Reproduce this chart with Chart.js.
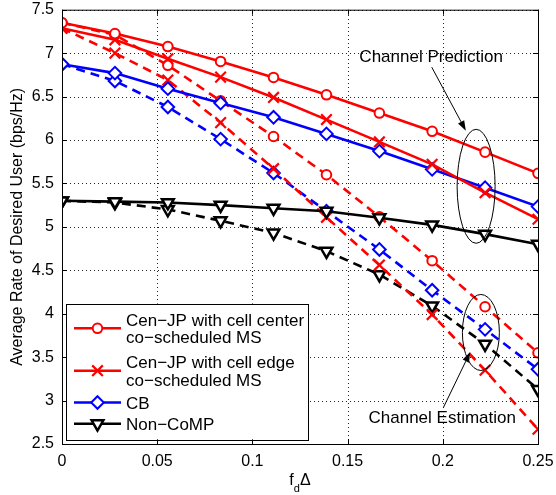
<!DOCTYPE html>
<html lang="en">
<head>
  <meta charset="UTF-8">
  <title>Average Rate of Desired User</title>
  <script src="https://cdn.jsdelivr.net/npm/chart.js"></script>
  <style>
    html, body { margin: 0; padding: 0; background: #fff; }
    canvas { display: block; }
  </style>
</head>
<body>
  <canvas id="myChart" width="556" height="495"></canvas>

<script>
  // f_d * Delta sample points
  var fdDelta = [0, 0.0278, 0.0556, 0.0833, 0.1111, 0.1389, 0.1667, 0.1944, 0.2222, 0.25];

  // channel prediction (solid)
  var centerPred = [7.35, 7.225, 7.076, 6.904, 6.72, 6.52, 6.31, 6.10, 5.86, 5.616];
  var edgePred = [7.286, 7.153, 6.935, 6.724, 6.49, 6.235, 5.978, 5.719, 5.393, 5.088];
  var cbPred = [6.873, 6.77, 6.591, 6.425, 6.261, 6.07, 5.872, 5.662, 5.451, 5.233];
  var nonCompPred = [5.30, 5.29, 5.28, 5.25, 5.215, 5.18, 5.105, 5.023, 4.916, 4.80];

  // channel estimation (dashed)
  var centerEst = [7.35, 7.21, 6.86, 6.45, 6.04, 5.60, 5.115, 4.61, 4.08, 3.55];
  var edgeEst = [7.286, 7.0, 6.69, 6.20, 5.67, 5.11, 4.56, 3.99, 3.35, 2.67];
  var cbEst = [6.873, 6.68, 6.38, 6.01, 5.62, 5.18, 4.74, 4.27, 3.82, 3.36];
  var nonCompEst = [5.30, 5.28, 5.20, 5.07, 4.93, 4.72, 4.45, 4.09, 3.65, 3.13];

  var xTicks = [0, 0.05, 0.1, 0.15, 0.2, 0.25];
  var xTickLabels = ['0', '0.05', '0.1', '0.15', '0.2', '0.25'];
  var yTicks = [2.5, 3, 3.5, 4, 4.5, 5, 5.5, 6, 6.5, 7, 7.5];
  var yTickLabels = ['2.5', '3', '3.5', '4', '4.5', '5', '5.5', '6', '6.5', '7', '7.5'];

  var seriesNames = ['Cen−JP with cell center co−scheduled MS', 'Cen−JP with cell edge co−scheduled MS', 'CB', 'Non−CoMP'];
  var legendLines = [['Cen−JP with cell center', 'co−scheduled MS'], ['Cen−JP with cell edge', 'co−scheduled MS'], ['CB'], ['Non−CoMP']];

  var FONT = '"Liberation Sans", Arial, Helvetica, sans-serif';
  Chart.defaults.font.family = FONT;
  Chart.defaults.color = '#000';

  var colors = ['#ff0000', '#ff0000', '#0000ff', '#000000'];
  var markers = [
    { shape: 'circle', r: 4.8, rot: 0, bw: 2 },
    { shape: 'crossRot', r: 7.5, rot: 0, bw: 2.2 },
    { shape: 'rectRot', r: 6.3, rot: 0, bw: 2 },
    { shape: 'triangle', r: 6.8, rot: 180, bw: 2.5 }
  ];

  function pts(vals) {
    return vals.map(function (v, i) { return { x: fdDelta[i], y: v }; });
  }

  function serie(k, label, vals, dashed) {
    return {
      label: label,
      data: pts(vals),
      borderColor: colors[k],
      backgroundColor: colors[k],
      borderWidth: 2.6,
      borderDash: dashed ? [9, 6] : [],
      pointStyle: markers[k].shape,
      pointRadius: markers[k].r,
      pointRotation: markers[k].rot,
      pointBorderWidth: markers[k].bw,
      pointBorderColor: colors[k],
      pointBackgroundColor: '#fff',
      tension: 0,
      fill: false
    };
  }

  var predSets = [centerPred, edgePred, cbPred, nonCompPred];
  var estSets = [centerEst, edgeEst, cbEst, nonCompEst];
  var datasets = [];
  predSets.forEach(function (s, k) { datasets.push(serie(k, seriesNames[k], s, false)); });
  estSets.forEach(function (s, k) { datasets.push(serie(k, seriesNames[k] + ' (channel estimation)', s, true)); });

  // ellipses, arrows and notes (centres in data units, radii in px)
  var notes = [
    { text: 'Channel Prediction', tx: 0.1939, ty: 6.896, from: [0.1942, 6.838], to: [0.2121, 6.107], ell: [0.2175, 5.467, 19, 57] },
    { text: 'Channel Estimation', tx: 0.1997, ty: 2.744, from: [0.2003, 2.919], to: [0.2144, 3.558], ell: [0.2200, 3.784, 18.5, 38] }
  ];

  // dotted grid under the data
  var gridPlugin = {
    id: 'dotGrid',
    beforeDatasetsDraw: function (chart) {
      var c = chart.ctx, a = chart.chartArea, sx = chart.scales.x, sy = chart.scales.y;
      c.save();
      c.strokeStyle = '#222';
      c.lineWidth = 1;
      c.setLineDash([1, 3]);
      c.beginPath();
      xTicks.forEach(function (v) {
        var px = Math.round(sx.getPixelForValue(v)) + 0.5;
        c.moveTo(px, a.bottom); c.lineTo(px, a.top);
      });
      yTicks.forEach(function (v) {
        var py = Math.round(sy.getPixelForValue(v)) + 0.5;
        c.moveTo(a.left, py); c.lineTo(a.right, py);
      });
      c.stroke();
      c.restore();
    }
  };

  // box around the axes with inward ticks, like matlab
  var framePlugin = {
    id: 'frame',
    afterDraw: function (chart) {
      var c = chart.ctx, a = chart.chartArea, sx = chart.scales.x, sy = chart.scales.y;
      c.save();
      c.strokeStyle = '#000';
      c.lineWidth = 1;
      c.setLineDash([]);
      c.strokeRect(a.left + 0.5, a.top + 0.5, a.right - a.left, a.bottom - a.top);
      c.beginPath();
      xTicks.forEach(function (v) {
        var px = Math.round(sx.getPixelForValue(v)) + 0.5;
        c.moveTo(px, a.bottom); c.lineTo(px, a.bottom - 5);
        c.moveTo(px, a.top); c.lineTo(px, a.top + 5);
      });
      yTicks.forEach(function (v) {
        var py = Math.round(sy.getPixelForValue(v)) + 0.5;
        c.moveTo(a.left, py); c.lineTo(a.left + 5, py);
        c.moveTo(a.right, py); c.lineTo(a.right - 5, py);
      });
      c.stroke();
      c.restore();
    }
  };

  function arrow(c, x0, y0, x1, y1) {
    var ang = Math.atan2(y1 - y0, x1 - x0), L = 10, W = 3.5;
    var bx = x1 - Math.cos(ang) * L, by = y1 - Math.sin(ang) * L;
    c.beginPath();
    c.moveTo(x0, y0); c.lineTo(bx, by);
    c.stroke();
    c.beginPath();
    c.moveTo(x1, y1);
    c.lineTo(bx + Math.sin(ang) * W, by - Math.cos(ang) * W);
    c.lineTo(bx - Math.sin(ang) * W, by + Math.cos(ang) * W);
    c.closePath();
    c.fill();
  }

  var notesPlugin = {
    id: 'notes',
    afterDatasetsDraw: function (chart) {
      var c = chart.ctx, sx = chart.scales.x, sy = chart.scales.y;
      c.save();
      c.strokeStyle = '#000';
      c.fillStyle = '#000';
      c.lineWidth = 1;
      c.setLineDash([]);
      notes.forEach(function (n) {
        c.beginPath();
        c.ellipse(sx.getPixelForValue(n.ell[0]), sy.getPixelForValue(n.ell[1]), n.ell[2], n.ell[3], 0, 0, Math.PI * 2);
        c.stroke();
        arrow(c, sx.getPixelForValue(n.from[0]), sy.getPixelForValue(n.from[1]),
          sx.getPixelForValue(n.to[0]), sy.getPixelForValue(n.to[1]));
        c.font = '17px ' + FONT;
        c.textAlign = 'center';
        c.textBaseline = 'alphabetic';
        c.fillText(n.text, sx.getPixelForValue(n.tx), sy.getPixelForValue(n.ty));
      });
      c.restore();
    }
  };

  // legend box in the lower left corner, two-line labels
  var legendPlugin = {
    id: 'boxLegend',
    afterDraw: function (chart) {
      var c = chart.ctx, a = chart.chartArea;
      var slot = 21.2, nLines = 0;
      legendLines.forEach(function (l) { nLines += l.length; });
      var w = 242, h = 3.5 + nLines * slot + 5;
      var left = a.left + 4, top = a.bottom - 4.7 - h;
      c.save();
      c.fillStyle = '#fff';
      c.fillRect(left, top, w, h);
      c.strokeStyle = '#000';
      c.lineWidth = 1;
      c.setLineDash([]);
      c.strokeRect(Math.round(left) + 0.5, Math.round(top) + 0.5, Math.round(w), Math.round(h));
      var y = top + 3.5;
      legendLines.forEach(function (lines, k) {
        var ds = chart.data.datasets[k];
        var cy = y + lines.length * slot / 2;
        c.strokeStyle = ds.borderColor;
        c.lineWidth = ds.borderWidth;
        c.beginPath();
        c.moveTo(left + 8, cy); c.lineTo(left + 55, cy);
        c.stroke();
        c.fillStyle = ds.pointBackgroundColor;
        c.strokeStyle = ds.pointBorderColor;
        c.lineWidth = ds.pointBorderWidth;
        Chart.helpers.drawPoint(c, { pointStyle: ds.pointStyle, rotation: ds.pointRotation, radius: ds.pointRadius, borderWidth: ds.pointBorderWidth }, left + 31.5, cy);
        c.fillStyle = '#000';
        c.font = '17px ' + FONT;
        c.textAlign = 'left';
        c.textBaseline = 'alphabetic';
        lines.forEach(function (t, i) {
          var capMid = cy + (i - (lines.length - 1) / 2) * 17.7;
          c.fillText(t, left + 60, capMid + 6.1);
        });
        y += lines.length * slot;
      });
      c.restore();
    }
  };

  // x axis title f_d Delta with a real subscript
  var xTitlePlugin = {
    id: 'xTitle',
    afterDraw: function (chart) {
      var c = chart.ctx, a = chart.chartArea;
      c.save();
      c.fillStyle = '#000';
      c.textBaseline = 'alphabetic';
      c.textAlign = 'left';
      var big = '16px ' + FONT, small = '11px ' + FONT;
      c.font = big; var wf = c.measureText('f').width, wD = c.measureText('Δ').width;
      c.font = small; var wd = c.measureText('d').width;
      var x = (a.left + a.right) / 2 - (wf + wd + wD) / 2, base = 484.5;
      c.font = big; c.fillText('f', x, base);
      c.font = small; c.fillText('d', x + wf, base + 7);
      c.font = big; c.fillText('Δ', x + wf + wd, base);
      c.restore();
    }
  };

  new Chart(document.getElementById('myChart'), {
    type: 'line',
    data: { datasets: datasets },
    plugins: [gridPlugin, framePlugin, notesPlugin, legendPlugin, xTitlePlugin],
    options: {
      responsive: false,
      animation: false,
      events: [],
      layout: { padding: { left: 0, top: 8, right: 18, bottom: 0 } },
      plugins: { legend: { display: false }, tooltip: { enabled: false } },
      scales: {
        x: {
          type: 'linear',
          min: 0,
          max: 0.25,
          afterBuildTicks: function (s) { s.ticks = xTicks.map(function (v) { return { value: v }; }); },
          afterFit: function (s) { s.height = 51; s.paddingLeft = 0; s.paddingRight = 0; },
          ticks: {
            autoSkip: false,
            maxRotation: 0,
            padding: 8,
            font: { size: 16 },
            color: '#000',
            callback: function (v, i) { return xTickLabels[i]; }
          },
          grid: { display: false, drawTicks: false },
          border: { display: false }
        },
        y: {
          min: 2.5,
          max: 7.5,
          afterBuildTicks: function (s) { s.ticks = yTicks.map(function (v) { return { value: v }; }); },
          afterFit: function (s) { s.width = 62; s.paddingTop = 0; s.paddingBottom = 0; },
          ticks: {
            autoSkip: false,
            padding: 8,
            font: { size: 16 },
            color: '#000',
            callback: function (v, i) { return yTickLabels[i]; }
          },
          grid: { display: false, drawTicks: false },
          border: { display: false },
          title: {
            display: true,
            text: 'Average Rate of Desired User (bps/Hz)',
            font: { size: 16 },
            color: '#000',
            padding: { top: 8, bottom: 0 }
          }
        }
      }
    }
  });
</script>
</body>
</html>
